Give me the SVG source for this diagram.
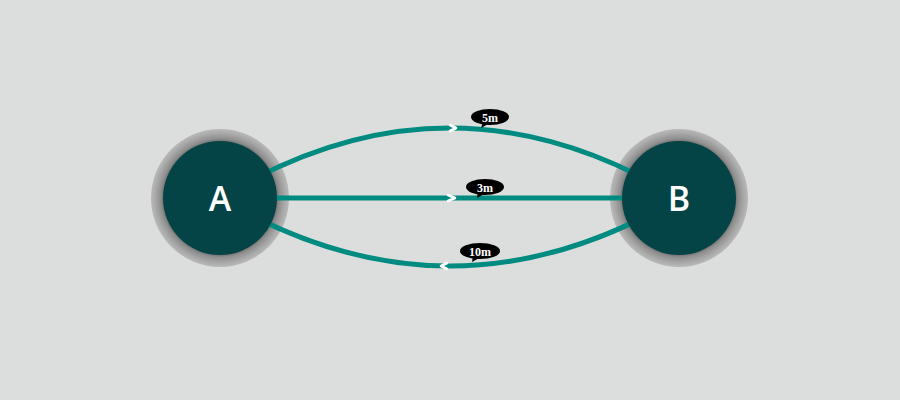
<svg xmlns="http://www.w3.org/2000/svg" width="900" height="400" viewBox="0 0 900 400">
<defs>
<radialGradient id="halo" cx="0.5" cy="0.5" r="0.5">
<stop offset="0.78" stop-color="#555"/>
<stop offset="0.86" stop-color="#8f8f8f"/>
<stop offset="0.94" stop-color="#a9a9a9"/>
<stop offset="1" stop-color="#b9b9b9"/>
</radialGradient>
<style>
.edge{fill:none;stroke:#008B80;stroke-width:5}
.chev{fill:none;stroke:#fff;stroke-width:2.6;stroke-linecap:round;stroke-linejoin:round}
.bub{fill:#000}
.lbl{fill:#fff;font-family:"Liberation Serif",serif;font-weight:bold;font-size:12px;text-anchor:middle}
.core{fill:#044446}
.name{fill:#fff;font-family:"Open Sans","DejaVu Sans",sans-serif;font-weight:600;font-size:34px;text-anchor:middle}
</style>
</defs>
<rect width="900" height="400" fill="#DCDEDD"/>
<g id="halos">
<circle cx="220" cy="198" r="69" fill="url(#halo)"/>
<circle cx="679" cy="198" r="69" fill="url(#halo)"/>
</g>
<g id="connectors">
<path class="edge" d="M220,198 Q449.5,58 679,198"/>
<path class="edge" d="M220,198 L679,198" stroke-width="6.5"/>
<path class="edge" d="M220,198 Q449.5,334 679,198"/>
<path class="chev" d="M450,125 L456,128 L450,131"/>
<path class="chev" d="M448,195 L455,198 L448,201"/>
<path class="chev" d="M447,263 L441,266 L447,269"/>
<g>
<ellipse class="bub" cx="490" cy="117" rx="19" ry="8"/>
<path class="bub" d="M483,122 L481,128 L490,123 Z"/>
<text class="lbl" x="490" y="121.5">5m</text>
</g>
<g>
<ellipse class="bub" cx="485" cy="187" rx="19" ry="8"/>
<path class="bub" d="M478,192 L477,198 L486,193 Z"/>
<text class="lbl" x="485" y="191.5">3m</text>
</g>
<g>
<ellipse class="bub" cx="480" cy="251" rx="20" ry="8"/>
<path class="bub" d="M473,256 L472,262 L481,257 Z"/>
<text class="lbl" x="480" y="255.5">10m</text>
</g>
</g>
<g id="node-A">
<circle class="core" cx="220" cy="198" r="57"/>
<text class="name" x="220" y="211">A</text>
</g>
<g id="node-B">
<circle class="core" cx="679" cy="198" r="57"/>
<text class="name" x="679" y="211">B</text>
</g>
</svg>
